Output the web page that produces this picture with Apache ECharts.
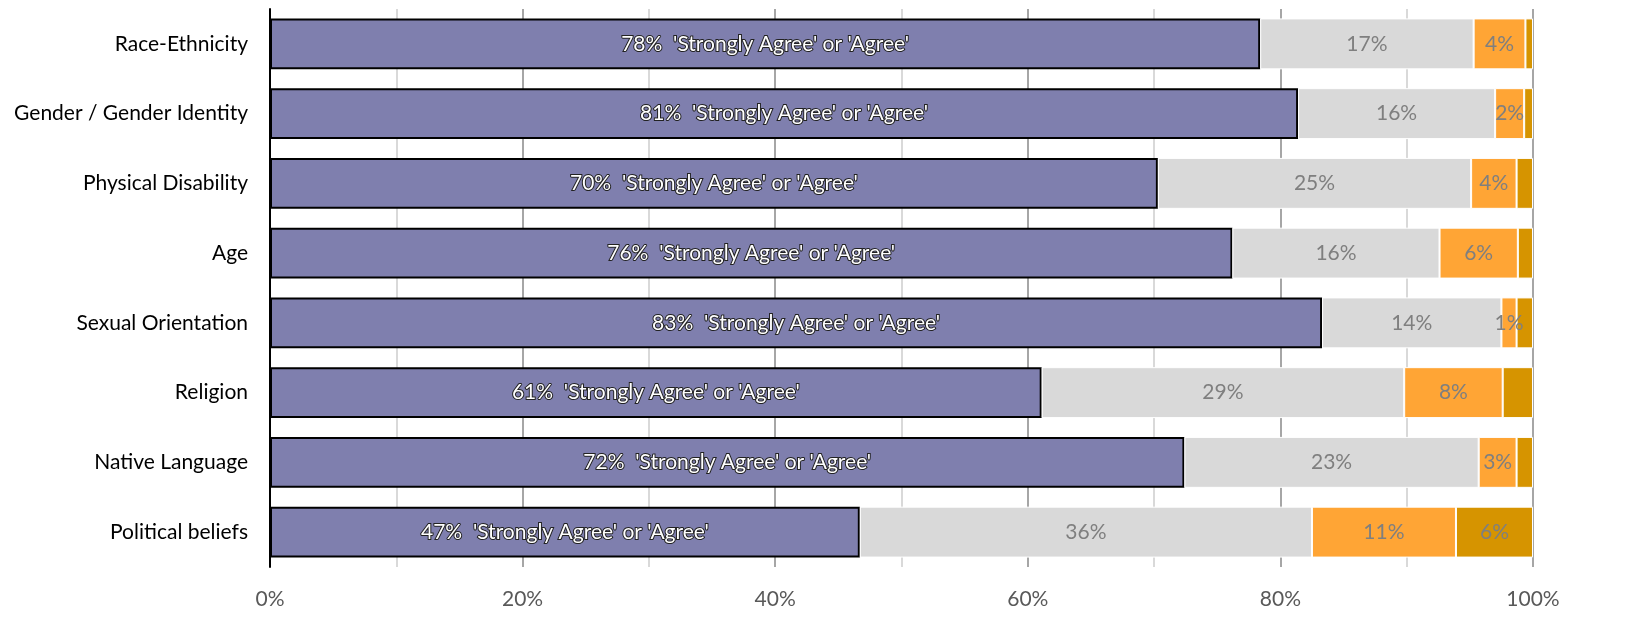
<!DOCTYPE html>
<html>
<head>
<meta charset="utf-8">
<script src="https://cdn.jsdelivr.net/npm/echarts@6/dist/echarts.min.js"></script>
<style>
html,body{margin:0;padding:0;background:#fff;}
#chart{width:1637px;height:634px;}
</style>
</head>
<body>
<div id="chart"></div>
<script>
const categories = ['Race-Ethnicity','Gender / Gender Identity','Physical Disability','Age','Sexual Orientation','Religion','Native Language','Political beliefs'];
const agree = [78.4, 81.4, 70.3, 76.2, 83.3, 61.1, 72.4, 46.7];
const neutral = [16.9, 15.6, 24.8, 16.4, 14.2, 28.7, 23.3, 35.8];
const disagree = [4.1, 2.3, 3.6, 6.2, 1.2, 7.8, 3.0, 11.4];
const strongDisagree = [0.6, 0.7, 1.3, 1.2, 1.3, 2.4, 1.3, 6.1];
const xTicks = [0, 20, 40, 60, 80, 100];

const FONT = 'Lato, "Open Sans", sans-serif';
const FS = 21;
const chart = echarts.init(document.getElementById('chart'));
const pct = v => Math.round(v) + '%';

chart.setOption({
  animation: false,
  grid: {left: 270, right: 104, top: 9, bottom: 67, containLabel: false},
  xAxis: {
    type: 'value', min: xTicks[0], max: xTicks[xTicks.length-1], interval: 20,
    axisLine: {show: false}, axisTick: {show: false},
    axisLabel: {formatter: '{value}%', color: '#595959', fontSize: FS, fontFamily: FONT, margin: 22},
    splitLine: {show: true, lineStyle: {color: '#a6a6a6', width: 2}},
    minorTick: {show: false, splitNumber: 2},
    minorSplitLine: {show: true, lineStyle: {color: '#d9d9d9', width: 2}}
  },
  yAxis: {
    type: 'category', data: categories, inverse: true,
    axisLine: {show: true, lineStyle: {color: '#000', width: 2}},
    axisTick: {show: false},
    axisLabel: {color: '#000', fontSize: FS, fontFamily: FONT, margin: 22}
  },
  series: [
    {
      type: 'bar', stack: 's', data: agree, barCategoryGap: '27%',
      itemStyle: {color: '#7f7fae', borderColor: '#000', borderWidth: 2},
      label: {show: true, position: 'inside', formatter: p => pct(p.value) + "  'Strongly Agree' or 'Agree'",
        color: '#fff', textBorderColor: '#222', textBorderWidth: 2, fontSize: FS, fontFamily: FONT}
    },
    {
      type: 'bar', stack: 's', data: neutral,
      itemStyle: {color: '#d9d9d9', borderColor: '#fff', borderWidth: 1},
      label: {show: true, position: 'inside', formatter: p => pct(p.value), color: '#7f7f7f', fontSize: FS, fontFamily: FONT}
    },
    {
      type: 'bar', stack: 's', data: disagree,
      itemStyle: {color: '#ffa535', borderColor: '#fff', borderWidth: 1},
      label: {show: true, position: 'inside', formatter: p => pct(p.value), color: '#7f7f7f', fontSize: FS, fontFamily: FONT}
    },
    {
      type: 'bar', stack: 's', data: strongDisagree,
      itemStyle: {color: '#d69400', borderColor: '#fff', borderWidth: 1},
      label: {show: true, position: 'inside', formatter: p => p.value >= 5 ? pct(p.value) : '', color: '#7f7f7f', fontSize: FS, fontFamily: FONT}
    }
  ]
});
</script>
</body>
</html>
